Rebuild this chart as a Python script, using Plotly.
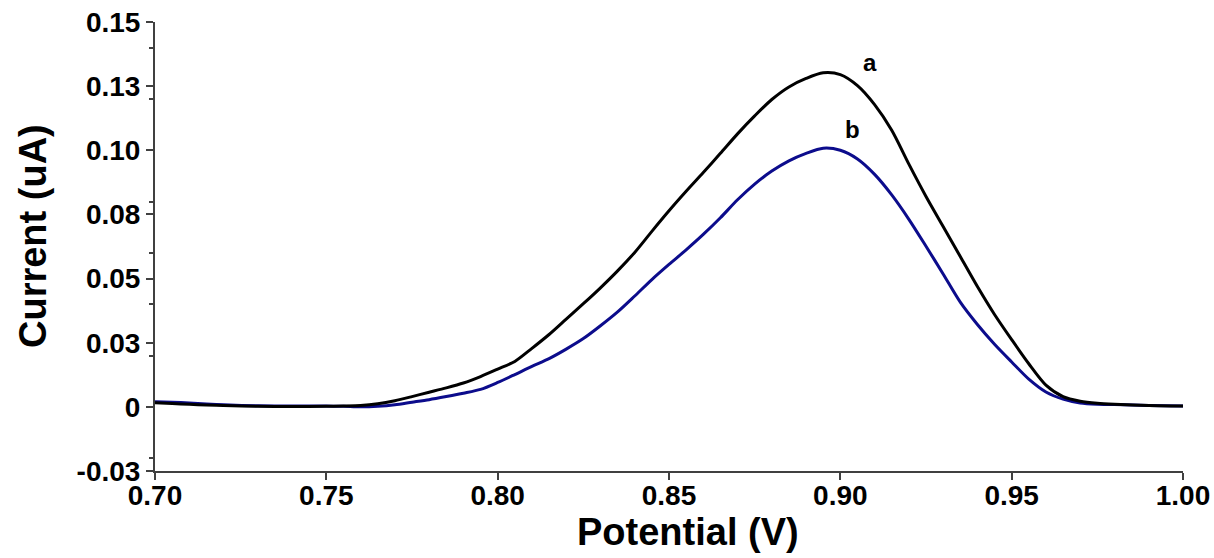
import plotly.graph_objects as go

potential = [0.700, 0.705, 0.710, 0.715, 0.720, 0.730, 0.740, 0.750, 0.755, 0.760,
             0.765, 0.770, 0.775, 0.780, 0.785, 0.790, 0.795, 0.800, 0.805, 0.810,
             0.815, 0.820, 0.825, 0.830, 0.835, 0.840, 0.845, 0.850, 0.855, 0.860,
             0.865, 0.870, 0.875, 0.880, 0.885, 0.890, 0.895, 0.900, 0.905, 0.910,
             0.915, 0.920, 0.925, 0.930, 0.935, 0.940, 0.945, 0.950, 0.955, 0.960,
             0.965, 0.970, 0.975, 0.980, 0.990, 1.000]
current_a = [0.0016, 0.0013, 0.0010, 0.0007, 0.0005, 0.0002, 0.0001, 0.0002, 0.0003, 0.0005,
             0.0012, 0.0024, 0.0040, 0.0057, 0.0074, 0.0093, 0.0118, 0.0147, 0.0177, 0.0228,
             0.0282, 0.0342, 0.0402, 0.0464, 0.0530, 0.0602, 0.0684, 0.0764, 0.0840, 0.0913,
             0.0988, 0.1064, 0.1134, 0.1198, 0.1247, 0.1280, 0.1302, 0.1295, 0.1252, 0.1178,
             0.1078, 0.0946, 0.0820, 0.0703, 0.0586, 0.0469, 0.0360, 0.0262, 0.0168, 0.0085,
             0.0040, 0.0022, 0.0014, 0.0010, 0.0005, 0.0003]
current_b = [0.0020, 0.0018, 0.0015, 0.0011, 0.0008, 0.0004, 0.0003, 0.0003, 0.0002, 0.0000,
             0.0002, 0.0008, 0.0018, 0.0028, 0.0040, 0.0053, 0.0068, 0.0095, 0.0126, 0.0158,
             0.0188, 0.0225, 0.0266, 0.0316, 0.0370, 0.0432, 0.0496, 0.0555, 0.0612, 0.0672,
             0.0737, 0.0807, 0.0868, 0.0919, 0.0959, 0.0988, 0.1008, 0.1000, 0.0966, 0.0906,
             0.0826, 0.0731, 0.0626, 0.0518, 0.0408, 0.0321, 0.0244, 0.0175, 0.0108, 0.0058,
             0.0030, 0.0015, 0.0010, 0.0009, 0.0005, 0.0003]

x_ticks = [0.70, 0.75, 0.80, 0.85, 0.90, 0.95, 1.00]
x_tick_text = ["0.70", "0.75", "0.80", "0.85", "0.90", "0.95", "1.00"]
y_ticks = [-0.025, 0.0, 0.025, 0.05, 0.075, 0.10, 0.125, 0.15]
y_tick_text = ["-0.03", "0", "0.03", "0.05", "0.08", "0.10", "0.13", "0.15"]

FONT = "Liberation Sans, Arial, sans-serif"

fig = go.Figure()
fig.add_trace(go.Scatter(x=potential, y=current_b, mode="lines", name="b",
                         line=dict(color="#0c0c8c", width=3, shape="spline", smoothing=0.8)))
fig.add_trace(go.Scatter(x=potential, y=current_a, mode="lines", name="a",
                         line=dict(color="#000000", width=3, shape="spline", smoothing=0.8)))

axis_common = dict(
    showline=True, linecolor="#404040", linewidth=2, mirror=False, automargin=False,
    ticks="outside", ticklen=7, tickwidth=1.5, tickcolor="#404040",
    showgrid=False, zeroline=False,
    tickfont=dict(family=FONT, size=28, color="black", weight="bold"),
    minor=dict(ticks="outside", ticklen=4, tickwidth=1.5, tickcolor="#404040", nticks=2, showgrid=False),
)

fig.update_xaxes(range=[0.70, 1.00], tickvals=x_ticks, ticktext=x_tick_text,
                 ticklabelstandoff=-9, **axis_common)
fig.update_yaxes(range=[-0.025, 0.15], tickvals=y_ticks, ticktext=y_tick_text, **axis_common)

fig.add_annotation(text="a", x=0.9087, y=0.1342, xref="x", yref="y", showarrow=False,
                   xanchor="center", yanchor="middle",
                   font=dict(family=FONT, size=24, color="black", weight="bold"))
fig.add_annotation(text="b", x=0.9036, y=0.1080, xref="x", yref="y", showarrow=False,
                   xanchor="center", yanchor="middle",
                   font=dict(family=FONT, size=24, color="black", weight="bold"))

fig.add_annotation(text="Potential (V)", x=688, y=532, xref="paper", yref="paper",
                   showarrow=False, xanchor="center", yanchor="middle",
                   font=dict(family=FONT, size=38, color="black", weight="bold"))
fig.add_annotation(text="Current (uA)", x=33, y=236, xref="paper", yref="paper",
                   showarrow=False, textangle=-90, xanchor="center", yanchor="middle",
                   font=dict(family=FONT, size=38, color="black", weight="bold"))

# convert pixel positions for axis-title annotations into paper coordinates
W, H = 1214, 558
L, R, T, B = 155, 31, 22, 87
pw, ph = W - L - R, H - T - B
for ann in fig.layout.annotations[2:]:
    ann.x = (ann.x - L) / pw
    ann.y = (H - B - ann.y) / ph

fig.update_layout(
    width=W, height=H,
    margin=dict(l=L, r=R, t=T, b=B),
    paper_bgcolor="white", plot_bgcolor="white",
    showlegend=False,
)

fig.write_html("out.html")
